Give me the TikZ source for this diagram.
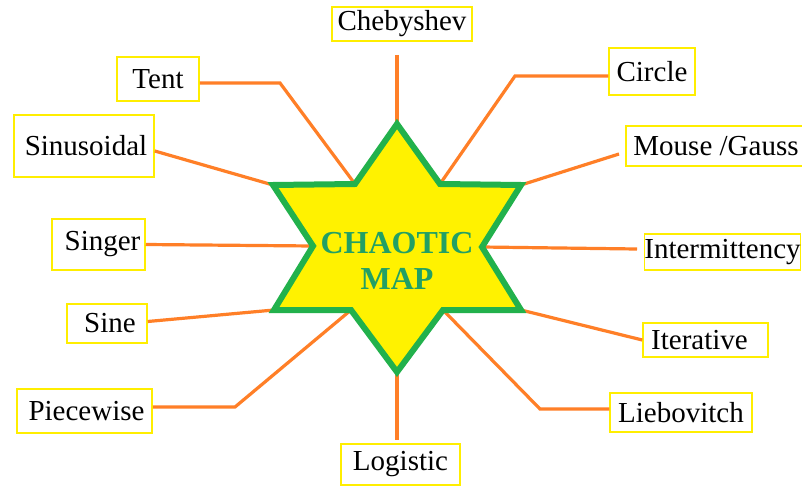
\documentclass[tikz,border=0pt]{standalone}
\usepackage{fontspec}
\setmainfont{Liberation Serif}
\definecolor{linkorange}{HTML}{FF7F27}
\definecolor{stargreen}{HTML}{22B14C}
\definecolor{starfill}{HTML}{FFF200}
\definecolor{boxyellow}{HTML}{FFEE00}
\definecolor{titlegreen}{RGB}{34,160,100}
\tikzset{
  mapbox/.style={draw=boxyellow, line width=1.5pt, fill=white, inner sep=0pt,
    font=\fontsize{29}{31}\selectfont, text=black},
  link/.style={draw=linkorange, line width=3.2pt},
  starshape/.style={draw=stargreen, fill=starfill, line width=6pt, line join=miter},
}
\begin{document}
\begin{tikzpicture}[x=1pt, y=-1pt]
\useasboundingbox (0,0) rectangle (802,487);
\fill[white] (0,0) rectangle (802,487);

% star corners
\coordinate (vT)   at (397,124);
\coordinate (vUIR) at (440,184);
\coordinate (vUR)  at (521,185);
\coordinate (vR)   at (482,247);
\coordinate (vLR)  at (521,310);
\coordinate (vLIR) at (443,310);
\coordinate (vB)   at (397,372);
\coordinate (vLIL) at (351,310);
\coordinate (vLL)  at (274,310);
\coordinate (vL)   at (313,246);
\coordinate (vUL)  at (273,185);
\coordinate (vUIL) at (355,184);

% map boxes
\node[mapbox, minimum width=140, minimum height=34] (cheb)   at (402,24)    {Chebyshev};
\node[mapbox, minimum width=82,  minimum height=44] (tent)   at (158,79)    {Tent};
\node[mapbox, minimum width=140, minimum height=62] (sinus)  at (84,146)    {\hspace*{4pt}Sinusoidal};
\node[mapbox, minimum width=86,  minimum height=47] (circ)   at (652,71.5)  {Circle};
\node[mapbox, minimum width=180, minimum height=40] (mouse)  at (716,146)   {Mouse /Gauss};
\node[mapbox, minimum width=93,  minimum height=51] (singer) at (98.5,244.5) {\hspace*{8pt}Singer};
\node[mapbox, minimum width=155, minimum height=36] (interm) at (722.5,252) {Intermittency};
\node[mapbox, minimum width=80,  minimum height=39] (sine)   at (107,323.5) {\hspace*{6pt}Sine};
\node[mapbox, minimum width=135, minimum height=44] (piece)  at (84.5,411)  {\hspace*{4pt}Piecewise};
\node[mapbox, minimum width=119, minimum height=41] (logi)   at (400.5,464.5) {Logistic};
\node[mapbox, minimum width=125, minimum height=34] (iter)   at (705.5,340) {Iterative\hspace*{12pt}};
\node[mapbox, minimum width=142, minimum height=39] (lieb)   at (681,412.5) {Liebovitch};

% loose ends of the connectors that stop short of a box
\coordinate (chebEnd)   at (397,55);
\coordinate (mouseEnd)  at (619,154);
\coordinate (intermEnd) at (637,249);
\coordinate (logiEnd)   at (397,440);

% connectors
\draw[link] (chebEnd) -- (vT);
\draw[link] ([yshift=-4pt]tent.east) -- (280,83) -- (vUIL);
\draw[link] ([yshift=-5pt]sinus.east) -- (vUL);
\draw[link] ([yshift=-4.5pt]circ.west) -- (515,76) -- (vUIR);
\draw[link] (mouseEnd) -- (vUR);
\draw[link] (singer.east) -- (vL);
\draw[link] (intermEnd) -- (vR);
\draw[link] ([yshift=2pt]sine.east) -- (vLL);
\draw[link] ([yshift=4pt]piece.east) -- (235,407) -- (vLIL);
\draw[link] (vB) -- (logiEnd);
\draw[link] (vLR) -- (iter.west);
\draw[link] (vLIR) -- (540,409) -- ([yshift=3.5pt]lieb.west);

% six-pointed star
\draw[starshape] (vT) -- (vUIR) -- (vUR) -- (vR) -- (vLR) -- (vLIR) -- (vB)
  -- (vLIL) -- (vLL) -- (vL) -- (vUL) -- (vUIL) -- cycle;

\node[align=center, text=titlegreen, font=\bfseries\fontsize{32}{36}\selectfont]
  (title) at (397,261) {CHAOTIC\\MAP};
\end{tikzpicture}
\end{document}
